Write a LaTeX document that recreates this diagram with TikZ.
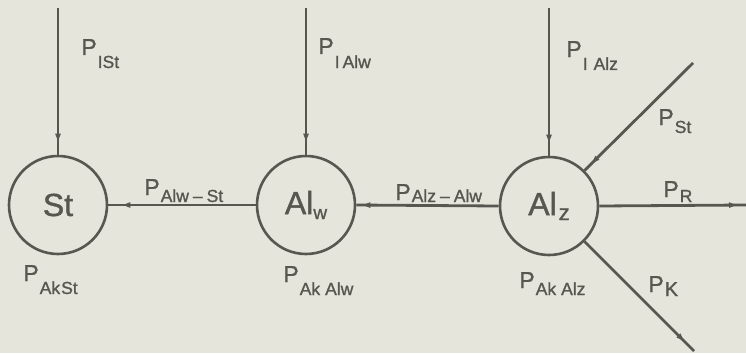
\documentclass[tikz,border=0pt]{standalone}
\usepackage{fontspec}
\setmainfont{Liberation Sans}[FakeBold=1.2]
\usetikzlibrary{arrows.meta,decorations.markings}
\definecolor{ink}{HTML}{58574F}
\definecolor{paper}{HTML}{E6E5DC}
\newcommand{\Pfont}{\fontsize{23}{23}\selectfont}
\newcommand{\Sfont}{\fontsize{17.5}{17.5}\selectfont}
\newcommand{\plab}[2]{\Pfont P\hspace{1pt}\raisebox{-#1pt}{\Sfont #2}}
\newcommand{\dsh}{\hspace{4pt}–\hspace{4pt}}
\begin{document}
\begin{tikzpicture}[x=1pt,y=-1pt,
  line width=2.8pt, draw=ink, text=ink,
  bus/.style={circle, draw=ink, line width=2.6pt, minimum size=98pt, inner sep=0pt, font=\fontsize{32}{32}\selectfont},
  flow/.style={draw=ink, line width=2.8pt},
  mk/.style={postaction={decorate,decoration={markings,
     mark=at position #1 with {\arrow{Latex[length=13pt,width=5.5pt]}}}}},
  lab/.style={anchor=base west, inner sep=0pt, text=ink}]
\fill[paper] (0,0) rectangle (746,353);
\useasboundingbox (0,0) rectangle (746,353);

\node[bus] (St)  at (58,205) {St};
\node[bus] (Alw) at (306,205) {Al\raisebox{-5pt}{\fontsize{19}{19}\selectfont w}};
\node[bus] (Alz) at (549,206) {Al\hspace{2pt}\raisebox{-5pt}{\fontsize{22}{22}\selectfont z}};

\coordinate (ISt) at (58,8);
\coordinate (IAlw) at (306,8);
\coordinate (IAlz) at (549,8);
\coordinate (SrcSt) at (693,63);
\coordinate (OutR) at (746,205);
\coordinate (OutK) at (694,351);

\draw[flow, mk=-8pt] (ISt) -- (St.north);
\draw[flow, mk=-8pt] (IAlw) -- (Alw.north);
\draw[flow, mk=-8pt] (IAlz) -- (Alz.north);
\draw[flow, mk=-9pt] (Alw.west) -- (St.east);
\draw[flow, mk=-1pt] (Alz.west) -- (Alw.east);
\draw[flow, mk=-5pt] (SrcSt) -- (Alz.45);
\draw[flow, mk=-4pt] (Alz.east) -- (OutR);
\draw[flow, mk=-9pt] (Alz.-45) -- (OutK);

\node[lab] (lISt)  at (80,55)  {\plab{13}{ISt}};
\node[lab] (lIAlw) at (317,54) {\plab{14}{I\hspace{3pt}Alw}};
\node[lab] (lIAlz) at (565,57) {\plab{13}{I\hspace{6pt}Alz}};
\node[lab] (lPSt)  at (657,125) {\plab{8}{St}};
\node[lab] (lPR)   at (662,197) {\plab{5}{R}};
\node[lab] (lPK)   at (647,292) {\plab{4}{\fontsize{20}{20}\selectfont K}};
\node[lab] (lAkSt) at (22,281) {\plab{13}{Ak\hspace{1pt}St}};
\node[lab] (lAkAlw) at (282,282) {\plab{13}{Ak\hspace{5pt}Alw}};
\node[lab] (lAkAlz) at (518,288) {\plab{7}{Ak\hspace{5pt}Alz}};
\node[lab] (lAlwSt) at (143,195) {\plab{7}{Alw\dsh St}};
\node[lab] (lAlzAlw) at (394,200) {\plab{2}{Alz\dsh Alw}};
\end{tikzpicture}
\end{document}
